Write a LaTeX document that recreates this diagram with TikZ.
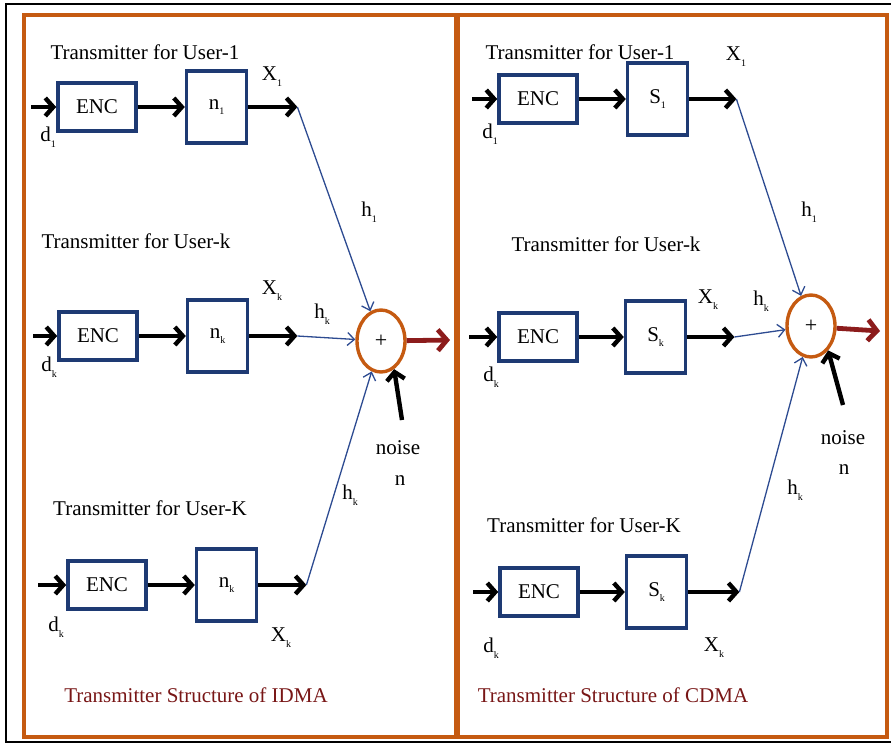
\documentclass[tikz,border=0pt]{standalone}
\usepackage{fontspec}
\setmainfont{Liberation Serif}
\usepackage{xcolor}
\usetikzlibrary{shapes.geometric, arrows.meta, positioning}

\definecolor{boxblue}{RGB}{30,58,115}
\definecolor{chanblue}{RGB}{45,75,145}
\definecolor{panelorange}{RGB}{197,90,17}
\definecolor{capred}{RGB}{120,22,22}
\definecolor{outred}{RGB}{140,28,28}

\newcommand{\lbl}{\fontsize{21}{25}\selectfont}
\newcommand{\lowsub}[1]{\raisebox{-0.6ex}{\fontsize{10}{10}\selectfont #1}}

\begin{document}
\begin{tikzpicture}[
      x=1pt, y=-1pt,
      node distance=47pt, % gap between ENC and spreader
      enc/.style={
        rectangle,
        draw=boxblue,
        line width=3.6pt,
        fill=white,
        minimum width=78pt,
        minimum height=48pt,
        font=\lbl
      },
      spread/.style={
        rectangle,
        draw=boxblue,
        line width=3.6pt,
        fill=white,
        minimum width=60pt,
        minimum height=72pt,
        font=\lbl
      },
      sumnode/.style={
        ellipse,
        draw=panelorange,
        line width=3.4pt,
        fill=white,
        minimum width=48pt,
        minimum height=62pt,
        inner sep=0pt,
        font=\fontsize{22}{22}\selectfont
      },
      fat/.style={line width=4.4pt, -{Straight Barb[length=8pt, width=18pt]}},
      chan/.style={draw=chanblue, line width=1.3pt, -{Straight Barb[length=7pt, width=13pt]}},
      redout/.style={draw=outred, line width=4.8pt, -{Straight Barb[length=9pt, width=21pt]}},
      lab/.style={font=\lbl, inner sep=0pt},
      captext/.style={font=\fontsize{21}{25}\selectfont, text=capred, inner sep=0pt}
    ]
    \useasboundingbox (0,0) rectangle (891,745);
    % frames
    \draw[line width=2.5pt] (6,4) rectangle (896,742);
    \draw[draw=panelorange, line width=3.4pt] (24,15) rectangle (456,737);
    \draw[draw=panelorange, line width=3.4pt] (458,15) rectangle (887,737);

    % ---------------- IDMA ----------------
    \node[sumnode] (sumL) at (381,341) {+};

    \node[enc] (encLa) at (97,107) {ENC};
    \node[spread, right=of encLa] (modLa) {n\lowsub{1}};
    \coordinate[left=25pt of encLa] (inLa);
    \coordinate[right=49pt of modLa] (xLa);

    \node[enc] (encLb) at (98,336) {ENC};
    \node[spread, right=of encLb] (modLb) {n\lowsub{k}};
    \coordinate[left=24pt of encLb] (inLb);
    \coordinate[right=48pt of modLb] (xLb);

    \node[enc] (encLc) at (107,585) {ENC};
    \node[spread, right=of encLc] (modLc) {n\lowsub{k}};
    \coordinate[left=28pt of encLc] (inLc);
    \coordinate[right=48pt of modLc] (xLc);

    \draw[fat] (inLa) -- (encLa);
    \draw[fat] (encLa) -- (modLa);
    \draw[fat] (modLa) -- (xLa);
    \draw[fat] (inLb) -- (encLb);
    \draw[fat] (encLb) -- (modLb);
    \draw[fat] (modLb) -- (xLb);
    \draw[fat] (inLc) -- (encLc);
    \draw[fat] (encLc) -- (modLc);
    \draw[fat] (modLc) -- (xLc);

    \draw[chan] (xLa) -- (sumL);
    \draw[chan] (xLb) -- (sumL);
    \draw[chan] (xLc) -- (sumL);

    \coordinate (outL) at (450,340);
    \draw[redout] (sumL) -- (outL);
    \coordinate (nzL) at (402,420);
    \draw[fat] (nzL) -- (sumL.-65);

    \node[lab] (tLa) at (145,52) {Transmitter for User-1};
    \node[lab] (tLb) at (136,241) {Transmitter for User-k};
    \node[lab] (tLc) at (150,508) {Transmitter for User-K};
    \node[lab] (dLa) at (48,137) {d\lowsub{1}};
    \node[lab] (dLb) at (49,367) {d\lowsub{k}};
    \node[lab] (dLc) at (56,627) {d\lowsub{k}};
    \node[lab] (XLa) at (272,77) {X\lowsub{1}};
    \node[lab] (XLb) at (272,291) {X\lowsub{k}};
    \node[lab] (XLc) at (281,638) {X\lowsub{k}};
    \node[lab] (hLa) at (369,212) {h\lowsub{1}};
    \node[lab] (hLb) at (322,314) {h\lowsub{k}};
    \node[lab] (hLc) at (350,495) {h\lowsub{k}};
    \node[lab] (nsL) at (398,448) {noise};
    \node[lab] (nL) at (400,481) {n};
    \node[captext] (capL) at (196,695) {Transmitter Structure of IDMA};

    % ---------------- CDMA ----------------
    \node[sumnode] (sumR) at (811,326) {+};

    \node[enc] (encRa) at (538,99) {ENC};
    \node[spread, right=of encRa] (modRa) {S\lowsub{1}};
    \coordinate[left=25pt of encRa] (inRa);
    \coordinate[right=47pt of modRa] (xRa);

    \node[enc] (encRb) at (538,337) {ENC};
    \node[spread, right=45pt of encRb] (modRb) {S\lowsub{k}};
    \coordinate[left=28pt of encRb] (inRb);
    \coordinate[right=47pt of modRb] (xRb);

    \node[enc] (encRc) at (539,592) {ENC};
    \node[spread, right=45pt of encRc] (modRc) {S\lowsub{k}};
    \coordinate[left=25pt of encRc] (inRc);
    \coordinate[right=51pt of modRc] (xRc);

    \draw[fat] (inRa) -- (encRa);
    \draw[fat] (encRa) -- (modRa);
    \draw[fat] (modRa) -- (xRa);
    \draw[fat] (inRb) -- (encRb);
    \draw[fat] (encRb) -- (modRb);
    \draw[fat] (modRb) -- (xRb);
    \draw[fat] (inRc) -- (encRc);
    \draw[fat] (encRc) -- (modRc);
    \draw[fat] (modRc) -- (xRc);

    \draw[chan] (xRa) -- (sumR);
    \draw[chan] (xRb) -- (sumR);
    \draw[chan] (xRc) -- (sumR);

    \coordinate (outR) at (880,331);
    \draw[redout] (sumR.-5) -- (outR);
    \coordinate (nzR) at (843,405);
    \draw[fat] (nzR) -- (sumR.-55);

    \node[lab] (tRa) at (580,52) {Transmitter for User-1};
    \node[lab] (tRb) at (606,244) {Transmitter for User-k};
    \node[lab] (tRc) at (584,525) {Transmitter for User-K};
    \node[lab] (dRa) at (490,134) {d\lowsub{1}};
    \node[lab] (dRb) at (491,377) {d\lowsub{k}};
    \node[lab] (dRc) at (491,648) {d\lowsub{k}};
    \node[lab] (XRa) at (736,57) {X\lowsub{1}};
    \node[lab] (XRb) at (708,300) {X\lowsub{k}};
    \node[lab] (XRc) at (714,648) {X\lowsub{k}};
    \node[lab] (hRa) at (809,212) {h\lowsub{1}};
    \node[lab] (hRb) at (761,301) {h\lowsub{k}};
    \node[lab] (hRc) at (795,490) {h\lowsub{k}};
    \node[lab] (nsR) at (843,438) {noise};
    \node[lab] (nR) at (844,470) {n};
    \node[captext] (capR) at (613,695) {Transmitter Structure of CDMA};
  \end{tikzpicture}
\end{document}
